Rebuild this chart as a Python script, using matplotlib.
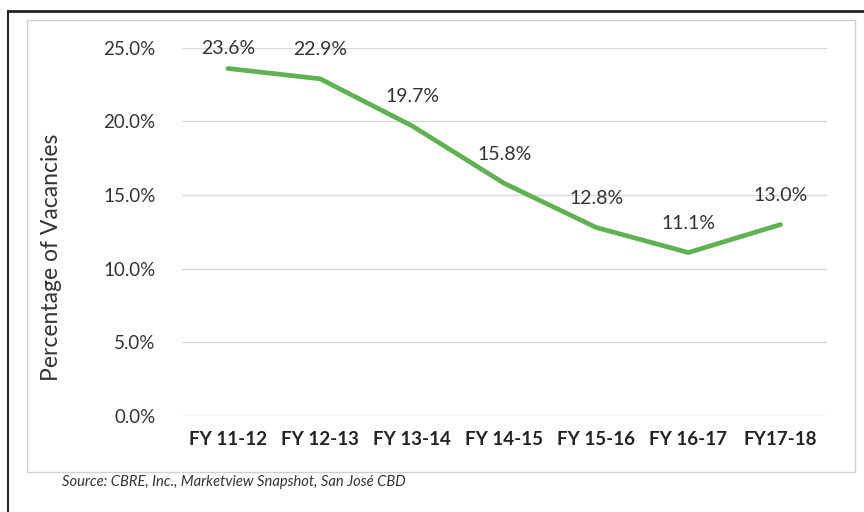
import matplotlib.pyplot as plt
from matplotlib.patches import Rectangle
from matplotlib.lines import Line2D

years = ['FY 11-12', 'FY 12-13', 'FY 13-14', 'FY 14-15', 'FY 15-16', 'FY 16-17', 'FY17-18']
vacancy = [23.6, 22.9, 19.7, 15.8, 12.8, 11.1, 13.0]
yticks = [0, 5, 10, 15, 20, 25]

plt.rcParams['font.family'] = ['Lato', 'DejaVu Sans']

fig = plt.figure(figsize=(8.64, 5.12), dpi=100)
ax = fig.add_axes([0.2106, 0.1875, 0.746, 0.719])

x = range(len(years))
ax.plot(x, vacancy, color='#5fb152', linewidth=3.4, solid_capstyle='round')
for i, v in zip(x, vacancy):
    # labels sit above the line; the top one is pulled down to stay inside the plot
    off = 8 if v > 23.5 else 15
    ax.annotate(f'{v:.1f}%', (i, v), xytext=(0, off), textcoords='offset points',
                ha='center', va='bottom', fontsize=14, color='#333333')

ax.set_xlim(-0.5, len(years) - 0.5)
ax.set_ylim(0, 25)
ax.set_yticks(yticks)
ax.set_yticklabels([f'{t:.1f}%' for t in yticks], fontsize=13.5, color='#333333')
ax.set_xticks(list(x))
ax.set_xticklabels(years, fontsize=13.5, fontweight='bold', color='#222222')
ax.tick_params(length=0, axis='y', pad=19)
ax.tick_params(length=0, axis='x', pad=11)
ax.grid(axis='y', color='#d9d9d9', linewidth=1)
ax.set_axisbelow(True)
for s in ax.spines.values():
    s.set_visible(False)
ax.set_ylabel('Percentage of Vacancies', fontsize=16.5, color='#333333')
ax.yaxis.set_label_coords(-0.186, 0.43)

# chart frame and page rules
fig.patches.append(Rectangle((27 / 864, 1 - 472 / 512), (855 - 27) / 864, (472 - 20) / 512,
                             transform=fig.transFigure, fill=False, edgecolor='#d0d0d0', linewidth=1))
fig.lines.append(Line2D([8 / 864, 1], [1 - 11 / 512] * 2, transform=fig.transFigure,
                        color='#222222', linewidth=2))
fig.lines.append(Line2D([8 / 864] * 2, [0, 1 - 11 / 512], transform=fig.transFigure,
                        color='#222222', linewidth=1.5))

fig.text(62 / 864, 1 - 482 / 512, 'Source: CBRE, Inc., Marketview Snapshot, San José CBD',
         fontsize=10.6, style='italic', color='#333333', va='center')

fig.savefig('out.png', dpi=100)
